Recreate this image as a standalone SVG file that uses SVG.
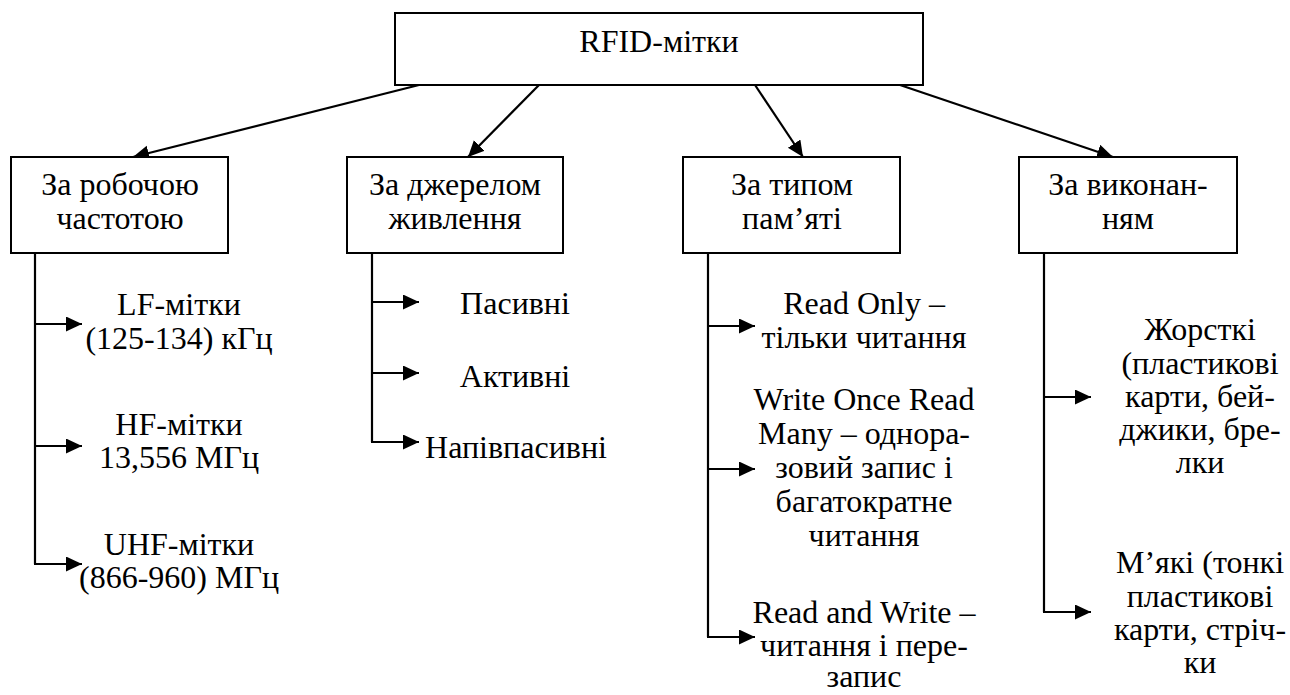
<svg xmlns="http://www.w3.org/2000/svg" width="1290" height="695" viewBox="0 0 1290 695">
<style>
.box{fill:#fff;stroke:#000;stroke-width:2}
.ln{fill:none;stroke:#000;stroke-width:2.2}
.t{font-family:"Liberation Serif","Times New Roman",serif;font-size:32px;fill:#000;text-anchor:middle}
</style>
<defs>
<marker id="ah" markerUnits="userSpaceOnUse" markerWidth="18" markerHeight="16" refX="16" refY="7.5" orient="auto">
<path d="M0,0 L16,7.5 L0,15 z" fill="#000"/>
</marker>
</defs>
<rect width="1290" height="695" fill="#fff"/>
<g id="connectors">
<line class="ln" x1="419" y1="85" x2="133" y2="157" marker-end="url(#ah)"/>
<line class="ln" x1="539" y1="85" x2="468" y2="157" marker-end="url(#ah)"/>
<line class="ln" x1="755" y1="85" x2="803" y2="157" marker-end="url(#ah)"/>
<line class="ln" x1="900" y1="85" x2="1113" y2="157" marker-end="url(#ah)"/>
<path class="ln" d="M35,253 V564"/>
<line class="ln" x1="34" y1="324" x2="82" y2="324" marker-end="url(#ah)"/>
<line class="ln" x1="34" y1="446" x2="82" y2="446" marker-end="url(#ah)"/>
<line class="ln" x1="34" y1="564" x2="82" y2="564" marker-end="url(#ah)"/>
<path class="ln" d="M372,253 V442"/>
<line class="ln" x1="371" y1="302" x2="419" y2="302" marker-end="url(#ah)"/>
<line class="ln" x1="371" y1="373" x2="419" y2="373" marker-end="url(#ah)"/>
<line class="ln" x1="371" y1="442" x2="419" y2="442" marker-end="url(#ah)"/>
<path class="ln" d="M708,253 V637"/>
<line class="ln" x1="707" y1="326" x2="755" y2="326" marker-end="url(#ah)"/>
<line class="ln" x1="707" y1="469" x2="755" y2="469" marker-end="url(#ah)"/>
<line class="ln" x1="707" y1="637" x2="755" y2="637" marker-end="url(#ah)"/>
<path class="ln" d="M1044,253 V612"/>
<line class="ln" x1="1043" y1="397" x2="1091" y2="397" marker-end="url(#ah)"/>
<line class="ln" x1="1043" y1="612" x2="1091" y2="612" marker-end="url(#ah)"/>
</g>
<g id="root">
<rect class="box" x="395" y="13" width="528" height="72"/>
<text class="t" x="659" y="52">RFID-мітки</text>
</g>
<g id="freq">
<rect class="box" x="11" y="157" width="217" height="96"/>
<text class="t" x="120" y="195">За робочою</text>
<text class="t" x="120" y="229">частотою</text>
</g>
<g id="power">
<rect class="box" x="347" y="157" width="216" height="96"/>
<text class="t" x="455" y="195">За джерелом</text>
<text class="t" x="455" y="229">живлення</text>
</g>
<g id="memory">
<rect class="box" x="683" y="157" width="217" height="96"/>
<text class="t" x="792" y="195">За типом</text>
<text class="t" x="792" y="229">пам’яті</text>
</g>
<g id="design">
<rect class="box" x="1019" y="157" width="218" height="96"/>
<text class="t" x="1128" y="195">За виконан-</text>
<text class="t" x="1128" y="229">ням</text>
</g>
<g id="lf">
<text class="t" x="179" y="315">LF-мітки</text>
<text class="t" x="179" y="349">(125-134) кГц</text>
</g>
<g id="hf">
<text class="t" x="179" y="435">HF-мітки</text>
<text class="t" x="179" y="468">13,556 МГц</text>
</g>
<g id="uhf">
<text class="t" x="179" y="555">UHF-мітки</text>
<text class="t" x="179" y="588">(866-960) МГц</text>
</g>
<g id="passive"><text class="t" x="515" y="314">Пасивні</text></g>
<g id="active"><text class="t" x="515" y="387">Активні</text></g>
<g id="semi"><text class="t" x="516" y="458">Напівпасивні</text></g>
<g id="ro">
<text class="t" x="864" y="314">Read Only –</text>
<text class="t" x="864" y="348">тільки читання</text>
</g>
<g id="worm">
<text class="t" x="864" y="410">Write Once Read</text>
<text class="t" x="864" y="444">Many – однора-</text>
<text class="t" x="864" y="478">зовий запис і</text>
<text class="t" x="864" y="512">багатократне</text>
<text class="t" x="864" y="546">читання</text>
</g>
<g id="rw">
<text class="t" x="864" y="623">Read and Write –</text>
<text class="t" x="864" y="656">читання і пере-</text>
<text class="t" x="864" y="687">запис</text>
</g>
<g id="hard">
<text class="t" x="1200" y="340">Жорсткі</text>
<text class="t" x="1200" y="374">(пластикові</text>
<text class="t" x="1200" y="407">карти, бей-</text>
<text class="t" x="1200" y="440">джики, бре-</text>
<text class="t" x="1200" y="473">лки</text>
</g>
<g id="soft">
<text class="t" x="1200" y="573">М’які (тонкі</text>
<text class="t" x="1200" y="607">пластикові</text>
<text class="t" x="1200" y="640">карти, стріч-</text>
<text class="t" x="1200" y="673">ки</text>
</g>
</svg>
